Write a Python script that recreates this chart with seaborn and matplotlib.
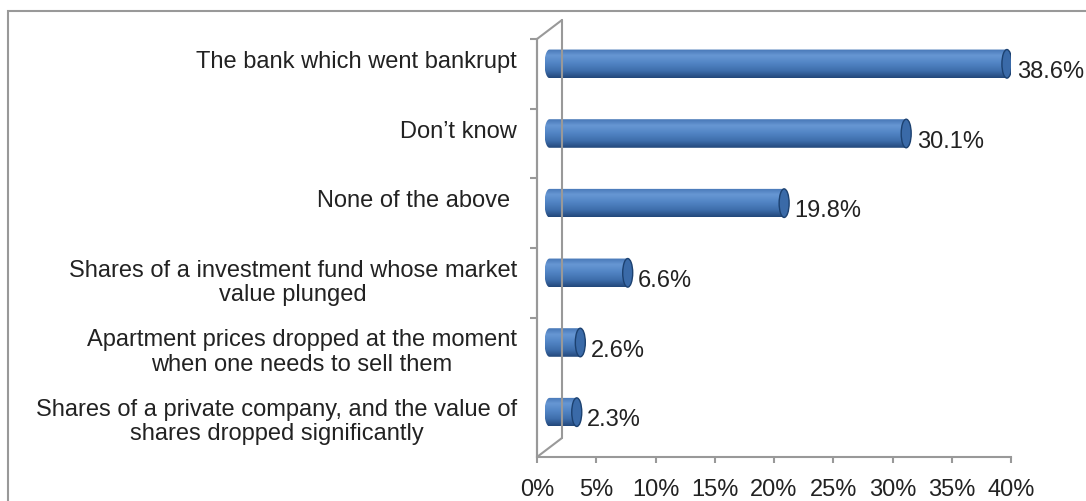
import numpy as np
import pandas as pd
import matplotlib
matplotlib.use("Agg")
import matplotlib.pyplot as plt
import seaborn as sns
from matplotlib.transforms import ScaledTranslation
from matplotlib.path import Path
from matplotlib.patches import PathPatch, Ellipse
from matplotlib.colors import LinearSegmentedColormap
from matplotlib.lines import Line2D

# ---------------- data ----------------
categories = [
    "The bank which went bankrupt",
    "Don\u2019t know",
    "None of the above ",
    "Shares of a investment fund whose market\nvalue plunged",
    "Apartment prices dropped at the moment\nwhen one needs to sell them",
    "Shares of a private company, and the value of\nshares dropped significantly",
]
values = [38.6, 30.1, 19.8, 6.6, 2.6, 2.3]
value_labels = ["38.6%", "30.1%", "19.8%", "6.6%", "2.6%", "2.3%"]
xticks = [0, 5, 10, 15, 20, 25, 30, 35, 40]
xtick_labels = ["0%", "5%", "10%", "15%", "20%", "25%", "30%", "35%", "40%"]

# ---------------- style ----------------
sns.set_style("white")
plt.rcParams["font.family"] = ["Liberation Sans", "DejaVu Sans"]
TXT = "#222222"
GRAY = "#999999"
LW = 1.5
FS = 17

W, H, DPI = 1086, 501, 100
fig = plt.figure(figsize=(W / DPI, H / DPI), dpi=DPI)
fig.patch.set_facecolor("white")

def fig_box(x0, y0, x1, y1):
    return [x0 / W, 1 - y1 / H, (x1 - x0) / W, (y1 - y0) / H]

AX_L, AX_T, AX_R, AX_B = 537, 39, 1011, 457
ax = fig.add_axes(fig_box(AX_L, AX_T, AX_R, AX_B))

df = pd.DataFrame({"category": categories, "value": values})
sns.barplot(data=df, x="value", y="category", orient="h", color="#4a7ebf",
            width=0.41, ax=ax)
ax.set_xlim(0, 40)
ax.set_ylim(len(categories) - 0.5, -0.5)
ax.set_xlabel("")
ax.set_ylabel("")

# axes styling
for s in ["top", "right"]:
    ax.spines[s].set_visible(False)
for s in ["left", "bottom"]:
    ax.spines[s].set_visible(True)
    ax.spines[s].set_color(GRAY)
    ax.spines[s].set_linewidth(LW)
    ax.spines[s].set_zorder(5)
ax.set_xticks(xticks)
ax.set_xticklabels(xtick_labels, fontsize=FS, color=TXT)
ax.set_yticks(np.arange(len(categories) - 1) - 0.5)
ax.set_yticklabels([])
ax.tick_params(axis="x", bottom=True, direction="out", length=4.5, width=LW,
               color=GRAY, pad=11)
ax.tick_params(axis="y", left=True, direction="out", length=5, width=LW, color=GRAY)
ax.grid(False)

# 3D depth walls
DX, DY = 25, 19  # back wall offset in px
def fline(xs, ys, color=GRAY, lw=LW, **kw):
    fig.add_artist(Line2D([x / W for x in xs], [1 - y / H for y in ys],
                          transform=fig.transFigure, color=color, lw=lw, **kw))

fline([AX_L + DX, AX_L + DX], [AX_T - DY, AX_B - DY])
fline([AX_L, AX_L + DX], [AX_T, AX_T - DY])
fline([AX_L, AX_L + DX], [AX_B, AX_B - DY])
fline([AX_L, AX_L], [AX_T, AX_B], zorder=20)

# figure border (top & left)
fline([8, 8, W + 5], [H + 5, 11, 11], solid_joinstyle="miter")

# cylinders built from seaborn's bar patches
off = ax.transData + ScaledTranslation(12.5 / DPI, 10 / DPI, fig.dpi_scale_trans)
ppu = (AX_R - AX_L) / 40.0
a = 5.0 / ppu
cmap = LinearSegmentedColormap.from_list(
    "cyl", [(0.0, "#4676b6"), (0.22, "#6797d3"), (0.45, "#5487c7"),
            (0.75, "#3e6eac"), (1.0, "#22477a")])
grad = np.linspace(0, 1, 200).reshape(-1, 1)

for p in list(ax.patches):
    x0, y0, w, h = p.get_x(), p.get_y(), p.get_width(), p.get_height()
    p.set_visible(False)
    yc = y0 + h / 2
    t = np.linspace(np.pi / 2, 3 * np.pi / 2, 50)
    verts = [(x0 + w, y0)] + list(zip(x0 + a * np.cos(t), yc - (h / 2) * np.sin(t))) \
        + [(x0 + w, y0 + h), (x0 + w, y0)]
    codes = [Path.MOVETO] + [Path.LINETO] * (len(verts) - 2) + [Path.CLOSEPOLY]
    clip = PathPatch(Path(verts, codes), transform=off, facecolor="none", edgecolor="none")
    ax.add_patch(clip)
    im = ax.imshow(grad, extent=[x0 - a, x0 + w, y0 + h, y0], cmap=cmap,
                   aspect="auto", origin="upper", transform=off,
                   interpolation="bilinear", zorder=2)
    im.set_clip_path(clip)
    cap = Ellipse((x0 + w, yc), 2 * a, h, transform=off, facecolor="#3a6aa8",
                  edgecolor="#1c4170", lw=1.0, zorder=3)
    ax.add_patch(cap)

ax.set_xlim(0, 40)
ax.set_ylim(len(categories) - 0.5, -0.5)

# value labels
vtr = ax.transData + ScaledTranslation(23 / DPI, 2 / DPI, fig.dpi_scale_trans)
for i, (v, lab) in enumerate(zip(values, value_labels)):
    ax.text(v, i, lab, transform=vtr, ha="left", va="center", fontsize=FS,
            color=TXT, clip_on=False)

# category labels
for i, cat in enumerate(categories):
    dy = 12 if "\n" not in cat else 0
    tr = ax.get_yaxis_transform() + ScaledTranslation(-20 / DPI, dy / DPI,
                                                      fig.dpi_scale_trans)
    ax.text(0, i, cat, transform=tr, ha="right", va="center", fontsize=FS,
            color=TXT, multialignment="center", linespacing=1.15, clip_on=False)

fig.savefig("out.png", dpi=DPI, facecolor="white")
